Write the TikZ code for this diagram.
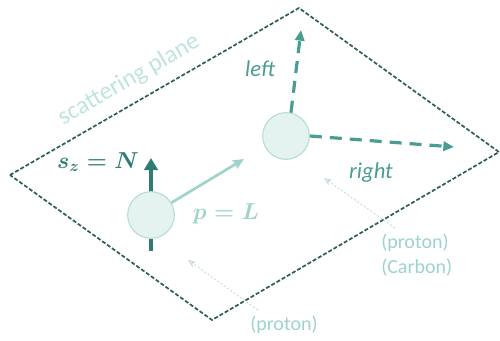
\documentclass[tikz,border=0pt]{standalone}
\usepackage{fontspec}
\setmainfont{Carlito}
\usetikzlibrary{arrows.meta}
\definecolor{planec}{HTML}{2F5F5A}
\definecolor{darkt}{HTML}{2E7D73}
\definecolor{midt}{HTML}{4A9D93}
\definecolor{lightt}{HTML}{9ED3CB}
\definecolor{palet}{HTML}{BFE3DE}
\definecolor{ballf}{HTML}{E4F3F0}
\definecolor{balld}{HTML}{B3DCD6}
\definecolor{dotc}{HTML}{C6DCD9}
\begin{document}
\begin{tikzpicture}[x=0.75pt,y=-0.75pt,
  plane/.style={draw=planec,line width=1.3pt,dash pattern=on 3pt off 1.5pt},
  ball/.style={circle,draw=balld,fill=ballf,line width=0.8pt,minimum size=35pt,inner sep=0pt},
  spin/.style={draw=darkt,line width=3.5pt,-{Triangle[length=9pt,width=10pt]}},
  mom/.style={draw=lightt,line width=2pt,-{Stealth[length=8pt,width=7pt,inset=1pt]}},
  scat/.style={draw=midt,line width=2.4pt,dash pattern=on 9pt off 6pt,-{Triangle[length=8pt,width=7pt]}},
  beam/.style={draw=dotc,line width=0.7pt,dash pattern=on 1.5pt off 1.5pt,-{Stealth[length=6pt,width=5pt,open]}},
  lbl/.style={font=\fontsize{17}{19}\selectfont\itshape,text=midt,inner sep=0pt},
  note/.style={font=\fontsize{15}{18.5}\selectfont,text=lightt,inner sep=0pt,align=left},
  mathl/.style={font=\fontsize{17}{19}\selectfont\boldmath,inner sep=0pt}]
\useasboundingbox (0,0) rectangle (500,340);
\coordinate (pt) at (299,8);
\coordinate (pr) at (499,152);
\coordinate (pb) at (212,320);
\coordinate (pl) at (10,175);
\draw[plane] (pl) -- (pt) -- (pr) -- (pb) -- cycle;
\node[font=\fontsize{18.5}{21}\selectfont,text=palet,rotate=30,inner sep=0pt] (sp) at (129,80) {scattering plane};
\coordinate (spintip) at (151,158);
\coordinate (spinbot) at (151,251);
\coordinate (momtip) at (244,159);
\coordinate (lefttip) at (301,30);
\coordinate (righttip) at (454,147);
\draw[spin] (151,193) -- (spintip);
\node[ball] (c1) at (151,215) {};
\node[ball] (c2) at (286,136) {};
\draw[darkt,line width=3.5pt] (c1.south) -- (spinbot);
\draw[mom] (c1.31) -- (momtip);
\draw[scat] (c2.78) -- (lefttip);
\draw[scat] (c2.east) -- (righttip);
\node[lbl] (lft) at (260,69) {left};
\node[lbl] (rgt) at (371,173) {right};
\node[mathl,text=darkt] (sz) at (98,162) {$s_z = N$};
\node[mathl,text=lightt] (pl2) at (226,214) {$p = L$};
\node[note,anchor=north west] (n1) at (381,234) {(proton)\\(Carbon)};
\node[note,anchor=west] (n2) at (250,325) {(proton)};
\coordinate (b1s) at (395,228);
\coordinate (b1e) at (324,178);
\coordinate (b2s) at (258,310);
\coordinate (b2e) at (188,260);
\draw[beam] (b1s) -- (b1e);
\draw[beam] (b2s) -- (b2e);
\end{tikzpicture}
\end{document}
